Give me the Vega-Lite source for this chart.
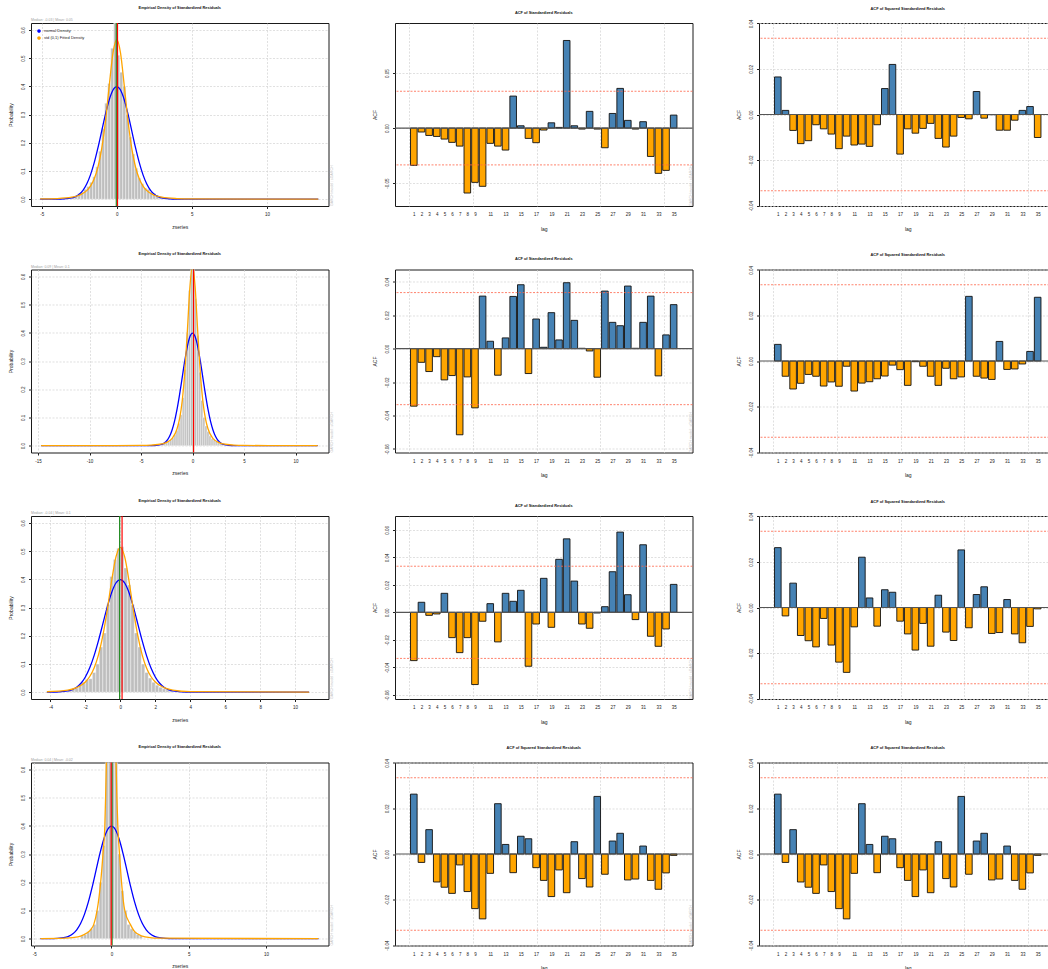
{
  "$schema": "https://vega.github.io/schema/vega-lite/v6.json",
  "padding": {"left": 8, "top": 5, "right": 0, "bottom": 0},
  "bounds": "flush",
  "columns": 3,
  "spacing": {"row": 63.5, "column": 66},
  "datasets": {
    "clim": [{"clim": 0.0335}, {"clim": -0.0335}],
    "acf1": [
      {"lag": 1, "acf": -0.0339}, {"lag": 2, "acf": -0.0036}, {"lag": 3, "acf": -0.0067}, {"lag": 4, "acf": -0.0076}, {"lag": 5, "acf": -0.0100},
      {"lag": 6, "acf": -0.0130}, {"lag": 7, "acf": -0.0164}, {"lag": 8, "acf": -0.0591}, {"lag": 9, "acf": -0.0494}, {"lag": 10, "acf": -0.0530},
      {"lag": 11, "acf": -0.0139}, {"lag": 12, "acf": -0.0164}, {"lag": 13, "acf": -0.0200}, {"lag": 14, "acf": 0.0291}, {"lag": 15, "acf": 0.0021},
      {"lag": 16, "acf": -0.0094}, {"lag": 17, "acf": -0.0133}, {"lag": 18, "acf": -0.0018}, {"lag": 19, "acf": 0.0048}, {"lag": 20, "acf": 0.0006},
      {"lag": 21, "acf": 0.0797}, {"lag": 22, "acf": 0.0021}, {"lag": 23, "acf": -0.0009}, {"lag": 24, "acf": 0.0152}, {"lag": 25, "acf": -0.0009},
      {"lag": 26, "acf": -0.0179}, {"lag": 27, "acf": 0.0133}, {"lag": 28, "acf": 0.0361}, {"lag": 29, "acf": 0.0070}, {"lag": 30, "acf": -0.0009},
      {"lag": 31, "acf": 0.0058}, {"lag": 32, "acf": -0.0258}, {"lag": 33, "acf": -0.0412}, {"lag": 34, "acf": -0.0385}, {"lag": 35, "acf": 0.0118}
    ],
    "sq1": [
      {"lag": 1, "acf": 0.0165}, {"lag": 2, "acf": 0.0018}, {"lag": 3, "acf": -0.0070}, {"lag": 4, "acf": -0.0128}, {"lag": 5, "acf": -0.0115},
      {"lag": 6, "acf": -0.0045}, {"lag": 7, "acf": -0.0063}, {"lag": 8, "acf": -0.0086}, {"lag": 9, "acf": -0.0150}, {"lag": 10, "acf": -0.0095},
      {"lag": 11, "acf": -0.0134}, {"lag": 12, "acf": -0.0130}, {"lag": 13, "acf": -0.0140}, {"lag": 14, "acf": -0.0045}, {"lag": 15, "acf": 0.0114},
      {"lag": 16, "acf": 0.0220}, {"lag": 17, "acf": -0.0174}, {"lag": 18, "acf": -0.0063}, {"lag": 19, "acf": -0.0082}, {"lag": 20, "acf": -0.0061},
      {"lag": 21, "acf": -0.0039}, {"lag": 22, "acf": -0.0105}, {"lag": 23, "acf": -0.0143}, {"lag": 24, "acf": -0.0095}, {"lag": 25, "acf": -0.0013},
      {"lag": 26, "acf": -0.0019}, {"lag": 27, "acf": 0.0101}, {"lag": 28, "acf": -0.0016}, {"lag": 29, "acf": -0.0001}, {"lag": 30, "acf": -0.0069},
      {"lag": 31, "acf": -0.0069}, {"lag": 32, "acf": -0.0025}, {"lag": 33, "acf": 0.0018}, {"lag": 34, "acf": 0.0035}, {"lag": 35, "acf": -0.0101}
    ],
    "acf2": [
      {"lag": 1, "acf": -0.0344}, {"lag": 2, "acf": -0.0082}, {"lag": 3, "acf": -0.0137}, {"lag": 4, "acf": -0.0048}, {"lag": 5, "acf": -0.0187},
      {"lag": 6, "acf": -0.0161}, {"lag": 7, "acf": -0.0515}, {"lag": 8, "acf": -0.0169}, {"lag": 9, "acf": -0.0354}, {"lag": 10, "acf": 0.0314},
      {"lag": 11, "acf": 0.0044}, {"lag": 12, "acf": -0.0159}, {"lag": 13, "acf": 0.0064}, {"lag": 14, "acf": 0.0312}, {"lag": 15, "acf": 0.0382},
      {"lag": 16, "acf": -0.0149}, {"lag": 17, "acf": 0.0177}, {"lag": 18, "acf": 0.0008}, {"lag": 19, "acf": 0.0215}, {"lag": 20, "acf": 0.0052},
      {"lag": 21, "acf": 0.0394}, {"lag": 22, "acf": 0.0169}, {"lag": 23, "acf": 0.0002}, {"lag": 24, "acf": -0.0014}, {"lag": 25, "acf": -0.0171},
      {"lag": 26, "acf": 0.0344}, {"lag": 27, "acf": 0.0157}, {"lag": 28, "acf": 0.0137}, {"lag": 29, "acf": 0.0374}, {"lag": 30, "acf": 0.0002},
      {"lag": 31, "acf": 0.0157}, {"lag": 32, "acf": 0.0314}, {"lag": 33, "acf": -0.0163}, {"lag": 34, "acf": 0.0082}, {"lag": 35, "acf": 0.0263}
    ],
    "sq2": [
      {"lag": 1, "acf": 0.0073}, {"lag": 2, "acf": -0.0067}, {"lag": 3, "acf": -0.0123}, {"lag": 4, "acf": -0.0098}, {"lag": 5, "acf": -0.0059},
      {"lag": 6, "acf": -0.0067}, {"lag": 7, "acf": -0.0110}, {"lag": 8, "acf": -0.0092}, {"lag": 9, "acf": -0.0111}, {"lag": 10, "acf": -0.0023},
      {"lag": 11, "acf": -0.0132}, {"lag": 12, "acf": -0.0097}, {"lag": 13, "acf": -0.0091}, {"lag": 14, "acf": -0.0078}, {"lag": 15, "acf": -0.0066},
      {"lag": 16, "acf": -0.0018}, {"lag": 17, "acf": -0.0038}, {"lag": 18, "acf": -0.0107}, {"lag": 19, "acf": -0.0003}, {"lag": 20, "acf": -0.0023},
      {"lag": 21, "acf": -0.0067}, {"lag": 22, "acf": -0.0107}, {"lag": 23, "acf": -0.0032}, {"lag": 24, "acf": -0.0078}, {"lag": 25, "acf": -0.0070},
      {"lag": 26, "acf": 0.0284}, {"lag": 27, "acf": -0.0067}, {"lag": 28, "acf": -0.0075}, {"lag": 29, "acf": -0.0081}, {"lag": 30, "acf": 0.0086},
      {"lag": 31, "acf": -0.0037}, {"lag": 32, "acf": -0.0035}, {"lag": 33, "acf": -0.0013}, {"lag": 34, "acf": 0.0042}, {"lag": 35, "acf": 0.0280}
    ],
    "acf3": [
      {"lag": 1, "acf": -0.0351}, {"lag": 2, "acf": 0.0073}, {"lag": 3, "acf": -0.0022}, {"lag": 4, "acf": -0.0012}, {"lag": 5, "acf": 0.0138},
      {"lag": 6, "acf": -0.0184}, {"lag": 7, "acf": -0.0293}, {"lag": 8, "acf": -0.0184}, {"lag": 9, "acf": -0.0525}, {"lag": 10, "acf": -0.0065},
      {"lag": 11, "acf": 0.0063}, {"lag": 12, "acf": -0.0215}, {"lag": 13, "acf": 0.0138}, {"lag": 14, "acf": 0.0080}, {"lag": 15, "acf": 0.0160},
      {"lag": 16, "acf": -0.0392}, {"lag": 17, "acf": -0.0085}, {"lag": 18, "acf": 0.0247}, {"lag": 19, "acf": -0.0109}, {"lag": 20, "acf": 0.0385},
      {"lag": 21, "acf": 0.0534}, {"lag": 22, "acf": 0.0227}, {"lag": 23, "acf": -0.0085}, {"lag": 24, "acf": -0.0116}, {"lag": 25, "acf": -0.0005},
      {"lag": 26, "acf": 0.0041}, {"lag": 27, "acf": 0.0295}, {"lag": 28, "acf": 0.0583}, {"lag": 29, "acf": 0.0128}, {"lag": 30, "acf": -0.0053},
      {"lag": 31, "acf": 0.0491}, {"lag": 32, "acf": -0.0174}, {"lag": 33, "acf": -0.0247}, {"lag": 34, "acf": -0.0121}, {"lag": 35, "acf": 0.0203}
    ],
    "sq3": [
      {"lag": 1, "acf": 0.0263}, {"lag": 2, "acf": -0.0037}, {"lag": 3, "acf": 0.0107}, {"lag": 4, "acf": -0.0123}, {"lag": 5, "acf": -0.0146},
      {"lag": 6, "acf": -0.0173}, {"lag": 7, "acf": -0.0048}, {"lag": 8, "acf": -0.0165}, {"lag": 9, "acf": -0.0240}, {"lag": 10, "acf": -0.0285},
      {"lag": 11, "acf": -0.0085}, {"lag": 12, "acf": 0.0221}, {"lag": 13, "acf": 0.0042}, {"lag": 14, "acf": -0.0082}, {"lag": 15, "acf": 0.0078},
      {"lag": 16, "acf": 0.0067}, {"lag": 17, "acf": -0.0060}, {"lag": 18, "acf": -0.0116}, {"lag": 19, "acf": -0.0187}, {"lag": 20, "acf": -0.0070},
      {"lag": 21, "acf": -0.0170}, {"lag": 22, "acf": 0.0054}, {"lag": 23, "acf": -0.0108}, {"lag": 24, "acf": -0.0145}, {"lag": 25, "acf": 0.0253},
      {"lag": 26, "acf": -0.0089}, {"lag": 27, "acf": 0.0057}, {"lag": 28, "acf": 0.0091}, {"lag": 29, "acf": -0.0114}, {"lag": 30, "acf": -0.0110},
      {"lag": 31, "acf": 0.0035}, {"lag": 32, "acf": -0.0116}, {"lag": 33, "acf": -0.0155}, {"lag": 34, "acf": -0.0083}, {"lag": 35, "acf": -0.0006}
    ],
    "hist1": [
      {"b0": -3.0, "b1": -2.8, "d": 0.008}, {"b0": -2.8, "b1": -2.6, "d": 0.012}, {"b0": -2.6, "b1": -2.4, "d": 0.02}, {"b0": -2.4, "b1": -2.2, "d": 0.025},
      {"b0": -2.2, "b1": -2.0, "d": 0.035}, {"b0": -2.0, "b1": -1.8, "d": 0.045}, {"b0": -1.8, "b1": -1.6, "d": 0.06}, {"b0": -1.6, "b1": -1.4, "d": 0.08},
      {"b0": -1.4, "b1": -1.2, "d": 0.115}, {"b0": -1.2, "b1": -1.0, "d": 0.17}, {"b0": -1.0, "b1": -0.8, "d": 0.25}, {"b0": -0.8, "b1": -0.6, "d": 0.34},
      {"b0": -0.6, "b1": -0.4, "d": 0.41}, {"b0": -0.4, "b1": -0.2, "d": 0.535}, {"b0": -0.2, "b1": 0.0, "d": 0.66}, {"b0": 0.0, "b1": 0.2, "d": 0.51},
      {"b0": 0.2, "b1": 0.4, "d": 0.45}, {"b0": 0.4, "b1": 0.6, "d": 0.4}, {"b0": 0.6, "b1": 0.8, "d": 0.3}, {"b0": 0.8, "b1": 1.0, "d": 0.22},
      {"b0": 1.0, "b1": 1.2, "d": 0.16}, {"b0": 1.2, "b1": 1.4, "d": 0.11}, {"b0": 1.4, "b1": 1.6, "d": 0.075}, {"b0": 1.6, "b1": 1.8, "d": 0.055},
      {"b0": 1.8, "b1": 2.0, "d": 0.04}, {"b0": 2.0, "b1": 2.2, "d": 0.035}, {"b0": 2.2, "b1": 2.4, "d": 0.025}, {"b0": 2.4, "b1": 2.6, "d": 0.02},
      {"b0": 2.6, "b1": 2.8, "d": 0.015}, {"b0": 2.8, "b1": 3.0, "d": 0.01}, {"b0": 3.0, "b1": 3.2, "d": 0.008}, {"b0": 3.2, "b1": 3.4, "d": 0.005}
    ],
    "curve1": [
      {"curve": "normal Density", "z": -5.1, "p": 0}, {"curve": "normal Density", "z": -4, "p": 0.0001}, {"curve": "normal Density", "z": -3.5, "p": 0.0009},
      {"curve": "normal Density", "z": -3, "p": 0.0044}, {"curve": "normal Density", "z": -2.75, "p": 0.0091}, {"curve": "normal Density", "z": -2.5, "p": 0.0175},
      {"curve": "normal Density", "z": -2.25, "p": 0.0317}, {"curve": "normal Density", "z": -2, "p": 0.054}, {"curve": "normal Density", "z": -1.75, "p": 0.0863},
      {"curve": "normal Density", "z": -1.5, "p": 0.1295}, {"curve": "normal Density", "z": -1.25, "p": 0.1826}, {"curve": "normal Density", "z": -1, "p": 0.242},
      {"curve": "normal Density", "z": -0.75, "p": 0.3011}, {"curve": "normal Density", "z": -0.5, "p": 0.3521}, {"curve": "normal Density", "z": -0.25, "p": 0.3867},
      {"curve": "normal Density", "z": 0, "p": 0.3989}, {"curve": "normal Density", "z": 0.25, "p": 0.3867}, {"curve": "normal Density", "z": 0.5, "p": 0.3521},
      {"curve": "normal Density", "z": 0.75, "p": 0.3011}, {"curve": "normal Density", "z": 1, "p": 0.242}, {"curve": "normal Density", "z": 1.25, "p": 0.1826},
      {"curve": "normal Density", "z": 1.5, "p": 0.1295}, {"curve": "normal Density", "z": 1.75, "p": 0.0863}, {"curve": "normal Density", "z": 2, "p": 0.054},
      {"curve": "normal Density", "z": 2.25, "p": 0.0317}, {"curve": "normal Density", "z": 2.5, "p": 0.0175}, {"curve": "normal Density", "z": 2.75, "p": 0.0091},
      {"curve": "normal Density", "z": 3, "p": 0.0044}, {"curve": "normal Density", "z": 3.5, "p": 0.0009}, {"curve": "normal Density", "z": 4, "p": 0.0001},
      {"curve": "normal Density", "z": 13.42, "p": 0},
      {"curve": "std (0,1) Fitted Density", "z": -5.1, "p": 0.0009}, {"curve": "std (0,1) Fitted Density", "z": -4, "p": 0.0023},
      {"curve": "std (0,1) Fitted Density", "z": -3, "p": 0.0071}, {"curve": "std (0,1) Fitted Density", "z": -2.5, "p": 0.0141},
      {"curve": "std (0,1) Fitted Density", "z": -2, "p": 0.0305}, {"curve": "std (0,1) Fitted Density", "z": -1.75, "p": 0.0465},
      {"curve": "std (0,1) Fitted Density", "z": -1.5, "p": 0.0722}, {"curve": "std (0,1) Fitted Density", "z": -1.25, "p": 0.114},
      {"curve": "std (0,1) Fitted Density", "z": -1, "p": 0.18}, {"curve": "std (0,1) Fitted Density", "z": -0.75, "p": 0.277},
      {"curve": "std (0,1) Fitted Density", "z": -0.5, "p": 0.402}, {"curve": "std (0,1) Fitted Density", "z": -0.25, "p": 0.518},
      {"curve": "std (0,1) Fitted Density", "z": 0, "p": 0.566}, {"curve": "std (0,1) Fitted Density", "z": 0.25, "p": 0.518},
      {"curve": "std (0,1) Fitted Density", "z": 0.5, "p": 0.402}, {"curve": "std (0,1) Fitted Density", "z": 0.75, "p": 0.277},
      {"curve": "std (0,1) Fitted Density", "z": 1, "p": 0.18}, {"curve": "std (0,1) Fitted Density", "z": 1.25, "p": 0.114},
      {"curve": "std (0,1) Fitted Density", "z": 1.5, "p": 0.0722}, {"curve": "std (0,1) Fitted Density", "z": 1.75, "p": 0.0465},
      {"curve": "std (0,1) Fitted Density", "z": 2, "p": 0.0305}, {"curve": "std (0,1) Fitted Density", "z": 2.5, "p": 0.0141},
      {"curve": "std (0,1) Fitted Density", "z": 3, "p": 0.0071}, {"curve": "std (0,1) Fitted Density", "z": 4, "p": 0.0023},
      {"curve": "std (0,1) Fitted Density", "z": 5, "p": 0.0009}, {"curve": "std (0,1) Fitted Density", "z": 13.42, "p": 0}
    ],
    "stat1": [{"stat": "median", "v": -0.03}, {"stat": "mean", "v": 0.05}],
    "hist2": [
      {"b0": -3.0, "b1": -2.8, "d": 0.006}, {"b0": -2.8, "b1": -2.6, "d": 0.008}, {"b0": -2.6, "b1": -2.4, "d": 0.01}, {"b0": -2.4, "b1": -2.2, "d": 0.014},
      {"b0": -2.2, "b1": -2.0, "d": 0.02}, {"b0": -2.0, "b1": -1.8, "d": 0.028}, {"b0": -1.8, "b1": -1.6, "d": 0.04}, {"b0": -1.6, "b1": -1.4, "d": 0.055},
      {"b0": -1.4, "b1": -1.2, "d": 0.08}, {"b0": -1.2, "b1": -1.0, "d": 0.11}, {"b0": -1.0, "b1": -0.8, "d": 0.17}, {"b0": -0.8, "b1": -0.6, "d": 0.27},
      {"b0": -0.6, "b1": -0.4, "d": 0.4}, {"b0": -0.4, "b1": -0.2, "d": 0.55}, {"b0": -0.2, "b1": 0.0, "d": 0.63}, {"b0": 0.0, "b1": 0.2, "d": 0.65},
      {"b0": 0.2, "b1": 0.4, "d": 0.52}, {"b0": 0.4, "b1": 0.6, "d": 0.39}, {"b0": 0.6, "b1": 0.8, "d": 0.26}, {"b0": 0.8, "b1": 1.0, "d": 0.16},
      {"b0": 1.0, "b1": 1.2, "d": 0.1}, {"b0": 1.2, "b1": 1.4, "d": 0.07}, {"b0": 1.4, "b1": 1.6, "d": 0.05}, {"b0": 1.6, "b1": 1.8, "d": 0.035},
      {"b0": 1.8, "b1": 2.0, "d": 0.025}, {"b0": 2.0, "b1": 2.2, "d": 0.02}, {"b0": 2.2, "b1": 2.4, "d": 0.015}, {"b0": 2.4, "b1": 2.6, "d": 0.01},
      {"b0": 2.6, "b1": 2.8, "d": 0.008}, {"b0": 2.8, "b1": 3.0, "d": 0.006}
    ],
    "curve2": [
      {"curve": "normal Density", "z": -14.7, "p": 0}, {"curve": "normal Density", "z": -4, "p": 0.0001}, {"curve": "normal Density", "z": -3.5, "p": 0.0009},
      {"curve": "normal Density", "z": -3, "p": 0.0044}, {"curve": "normal Density", "z": -2.75, "p": 0.0091}, {"curve": "normal Density", "z": -2.5, "p": 0.0175},
      {"curve": "normal Density", "z": -2.25, "p": 0.0317}, {"curve": "normal Density", "z": -2, "p": 0.054}, {"curve": "normal Density", "z": -1.75, "p": 0.0863},
      {"curve": "normal Density", "z": -1.5, "p": 0.1295}, {"curve": "normal Density", "z": -1.25, "p": 0.1826}, {"curve": "normal Density", "z": -1, "p": 0.242},
      {"curve": "normal Density", "z": -0.75, "p": 0.3011}, {"curve": "normal Density", "z": -0.5, "p": 0.3521}, {"curve": "normal Density", "z": -0.25, "p": 0.3867},
      {"curve": "normal Density", "z": 0, "p": 0.3989}, {"curve": "normal Density", "z": 0.25, "p": 0.3867}, {"curve": "normal Density", "z": 0.5, "p": 0.3521},
      {"curve": "normal Density", "z": 0.75, "p": 0.3011}, {"curve": "normal Density", "z": 1, "p": 0.242}, {"curve": "normal Density", "z": 1.25, "p": 0.1826},
      {"curve": "normal Density", "z": 1.5, "p": 0.1295}, {"curve": "normal Density", "z": 1.75, "p": 0.0863}, {"curve": "normal Density", "z": 2, "p": 0.054},
      {"curve": "normal Density", "z": 2.25, "p": 0.0317}, {"curve": "normal Density", "z": 2.5, "p": 0.0175}, {"curve": "normal Density", "z": 2.75, "p": 0.0091},
      {"curve": "normal Density", "z": 3, "p": 0.0044}, {"curve": "normal Density", "z": 3.5, "p": 0.0009}, {"curve": "normal Density", "z": 4, "p": 0.0001},
      {"curve": "normal Density", "z": 12.15, "p": 0},
      {"curve": "std (0,1) Fitted Density", "z": -14.7, "p": 0.0001}, {"curve": "std (0,1) Fitted Density", "z": -5, "p": 0.0009},
      {"curve": "std (0,1) Fitted Density", "z": -4, "p": 0.0022}, {"curve": "std (0,1) Fitted Density", "z": -3, "p": 0.0064},
      {"curve": "std (0,1) Fitted Density", "z": -2.5, "p": 0.012}, {"curve": "std (0,1) Fitted Density", "z": -2, "p": 0.025},
      {"curve": "std (0,1) Fitted Density", "z": -1.5, "p": 0.06}, {"curve": "std (0,1) Fitted Density", "z": -1.25, "p": 0.097},
      {"curve": "std (0,1) Fitted Density", "z": -1, "p": 0.159}, {"curve": "std (0,1) Fitted Density", "z": -0.75, "p": 0.261},
      {"curve": "std (0,1) Fitted Density", "z": -0.5, "p": 0.407}, {"curve": "std (0,1) Fitted Density", "z": -0.25, "p": 0.564},
      {"curve": "std (0,1) Fitted Density", "z": 0, "p": 0.637}, {"curve": "std (0,1) Fitted Density", "z": 0.25, "p": 0.564},
      {"curve": "std (0,1) Fitted Density", "z": 0.5, "p": 0.407}, {"curve": "std (0,1) Fitted Density", "z": 0.75, "p": 0.261},
      {"curve": "std (0,1) Fitted Density", "z": 1, "p": 0.159}, {"curve": "std (0,1) Fitted Density", "z": 1.25, "p": 0.097},
      {"curve": "std (0,1) Fitted Density", "z": 1.5, "p": 0.06}, {"curve": "std (0,1) Fitted Density", "z": 2, "p": 0.025},
      {"curve": "std (0,1) Fitted Density", "z": 2.5, "p": 0.012}, {"curve": "std (0,1) Fitted Density", "z": 3, "p": 0.0064},
      {"curve": "std (0,1) Fitted Density", "z": 4, "p": 0.0022}, {"curve": "std (0,1) Fitted Density", "z": 5, "p": 0.0009},
      {"curve": "std (0,1) Fitted Density", "z": 12.15, "p": 0}
    ],
    "stat2": [{"stat": "median", "v": 0.09}, {"stat": "mean", "v": 0.1}],
    "hist3": [
      {"b0": -3.0, "b1": -2.8, "d": 0.008}, {"b0": -2.8, "b1": -2.6, "d": 0.01}, {"b0": -2.6, "b1": -2.4, "d": 0.015}, {"b0": -2.4, "b1": -2.2, "d": 0.025},
      {"b0": -2.2, "b1": -2.0, "d": 0.035}, {"b0": -2.0, "b1": -1.8, "d": 0.045}, {"b0": -1.8, "b1": -1.6, "d": 0.048}, {"b0": -1.6, "b1": -1.4, "d": 0.07},
      {"b0": -1.4, "b1": -1.2, "d": 0.1}, {"b0": -1.2, "b1": -1.0, "d": 0.16}, {"b0": -1.0, "b1": -0.8, "d": 0.21}, {"b0": -0.8, "b1": -0.6, "d": 0.31},
      {"b0": -0.6, "b1": -0.4, "d": 0.41}, {"b0": -0.4, "b1": -0.2, "d": 0.47}, {"b0": -0.2, "b1": 0.0, "d": 0.51}, {"b0": 0.0, "b1": 0.2, "d": 0.515},
      {"b0": 0.2, "b1": 0.4, "d": 0.44}, {"b0": 0.4, "b1": 0.6, "d": 0.38}, {"b0": 0.6, "b1": 0.8, "d": 0.31}, {"b0": 0.8, "b1": 1.0, "d": 0.21},
      {"b0": 1.0, "b1": 1.2, "d": 0.16}, {"b0": 1.2, "b1": 1.4, "d": 0.1}, {"b0": 1.4, "b1": 1.6, "d": 0.07}, {"b0": 1.6, "b1": 1.8, "d": 0.05},
      {"b0": 1.8, "b1": 2.0, "d": 0.035}, {"b0": 2.0, "b1": 2.2, "d": 0.025}, {"b0": 2.2, "b1": 2.4, "d": 0.018}, {"b0": 2.4, "b1": 2.6, "d": 0.012},
      {"b0": 2.6, "b1": 2.8, "d": 0.008}, {"b0": 2.8, "b1": 3.0, "d": 0.005}
    ],
    "curve3": [
      {"curve": "normal Density", "z": -4.2, "p": 0}, {"curve": "normal Density", "z": -4, "p": 0.0001}, {"curve": "normal Density", "z": -3.5, "p": 0.0009},
      {"curve": "normal Density", "z": -3, "p": 0.0044}, {"curve": "normal Density", "z": -2.75, "p": 0.0091}, {"curve": "normal Density", "z": -2.5, "p": 0.0175},
      {"curve": "normal Density", "z": -2.25, "p": 0.0317}, {"curve": "normal Density", "z": -2, "p": 0.054}, {"curve": "normal Density", "z": -1.75, "p": 0.0863},
      {"curve": "normal Density", "z": -1.5, "p": 0.1295}, {"curve": "normal Density", "z": -1.25, "p": 0.1826}, {"curve": "normal Density", "z": -1, "p": 0.242},
      {"curve": "normal Density", "z": -0.75, "p": 0.3011}, {"curve": "normal Density", "z": -0.5, "p": 0.3521}, {"curve": "normal Density", "z": -0.25, "p": 0.3867},
      {"curve": "normal Density", "z": 0, "p": 0.3989}, {"curve": "normal Density", "z": 0.25, "p": 0.3867}, {"curve": "normal Density", "z": 0.5, "p": 0.3521},
      {"curve": "normal Density", "z": 0.75, "p": 0.3011}, {"curve": "normal Density", "z": 1, "p": 0.242}, {"curve": "normal Density", "z": 1.25, "p": 0.1826},
      {"curve": "normal Density", "z": 1.5, "p": 0.1295}, {"curve": "normal Density", "z": 1.75, "p": 0.0863}, {"curve": "normal Density", "z": 2, "p": 0.054},
      {"curve": "normal Density", "z": 2.25, "p": 0.0317}, {"curve": "normal Density", "z": 2.5, "p": 0.0175}, {"curve": "normal Density", "z": 2.75, "p": 0.0091},
      {"curve": "normal Density", "z": 3, "p": 0.0044}, {"curve": "normal Density", "z": 3.5, "p": 0.0009}, {"curve": "normal Density", "z": 4, "p": 0.0001},
      {"curve": "normal Density", "z": 10.8, "p": 0},
      {"curve": "std (0,1) Fitted Density", "z": -4.2, "p": 0.0017}, {"curve": "std (0,1) Fitted Density", "z": -3, "p": 0.0076},
      {"curve": "std (0,1) Fitted Density", "z": -2.5, "p": 0.0161}, {"curve": "std (0,1) Fitted Density", "z": -2, "p": 0.0363},
      {"curve": "std (0,1) Fitted Density", "z": -1.75, "p": 0.0557}, {"curve": "std (0,1) Fitted Density", "z": -1.5, "p": 0.086},
      {"curve": "std (0,1) Fitted Density", "z": -1.25, "p": 0.1325}, {"curve": "std (0,1) Fitted Density", "z": -1, "p": 0.2},
      {"curve": "std (0,1) Fitted Density", "z": -0.75, "p": 0.29}, {"curve": "std (0,1) Fitted Density", "z": -0.5, "p": 0.393},
      {"curve": "std (0,1) Fitted Density", "z": -0.25, "p": 0.479}, {"curve": "std (0,1) Fitted Density", "z": 0, "p": 0.513},
      {"curve": "std (0,1) Fitted Density", "z": 0.25, "p": 0.479}, {"curve": "std (0,1) Fitted Density", "z": 0.5, "p": 0.393},
      {"curve": "std (0,1) Fitted Density", "z": 0.75, "p": 0.29}, {"curve": "std (0,1) Fitted Density", "z": 1, "p": 0.2},
      {"curve": "std (0,1) Fitted Density", "z": 1.25, "p": 0.1325}, {"curve": "std (0,1) Fitted Density", "z": 1.5, "p": 0.086},
      {"curve": "std (0,1) Fitted Density", "z": 1.75, "p": 0.0557}, {"curve": "std (0,1) Fitted Density", "z": 2, "p": 0.0363},
      {"curve": "std (0,1) Fitted Density", "z": 2.5, "p": 0.0161}, {"curve": "std (0,1) Fitted Density", "z": 3, "p": 0.0076},
      {"curve": "std (0,1) Fitted Density", "z": 4, "p": 0.0021}, {"curve": "std (0,1) Fitted Density", "z": 10.8, "p": 0}
    ],
    "stat3": [{"stat": "median", "v": -0.04}, {"stat": "mean", "v": 0.1}],
    "hist4": [
      {"b0": -2.0, "b1": -1.8, "d": 0.01}, {"b0": -1.8, "b1": -1.6, "d": 0.015}, {"b0": -1.6, "b1": -1.4, "d": 0.025}, {"b0": -1.4, "b1": -1.2, "d": 0.035},
      {"b0": -1.2, "b1": -1.0, "d": 0.05}, {"b0": -1.0, "b1": -0.8, "d": 0.1}, {"b0": -0.8, "b1": -0.6, "d": 0.2}, {"b0": -0.6, "b1": -0.4, "d": 0.33},
      {"b0": -0.4, "b1": -0.2, "d": 0.7}, {"b0": -0.2, "b1": 0.0, "d": 0.9}, {"b0": 0.0, "b1": 0.2, "d": 0.9}, {"b0": 0.2, "b1": 0.4, "d": 0.65},
      {"b0": 0.4, "b1": 0.6, "d": 0.3}, {"b0": 0.6, "b1": 0.8, "d": 0.17}, {"b0": 0.8, "b1": 1.0, "d": 0.1}, {"b0": 1.0, "b1": 1.2, "d": 0.05},
      {"b0": 1.2, "b1": 1.4, "d": 0.035}, {"b0": 1.4, "b1": 1.6, "d": 0.025}, {"b0": 1.6, "b1": 1.8, "d": 0.015}, {"b0": 1.8, "b1": 2.0, "d": 0.01}
    ],
    "curve4": [
      {"curve": "normal Density", "z": -4.6, "p": 0}, {"curve": "normal Density", "z": -4, "p": 0.0001}, {"curve": "normal Density", "z": -3.5, "p": 0.0009},
      {"curve": "normal Density", "z": -3, "p": 0.0044}, {"curve": "normal Density", "z": -2.75, "p": 0.0091}, {"curve": "normal Density", "z": -2.5, "p": 0.0175},
      {"curve": "normal Density", "z": -2.25, "p": 0.0317}, {"curve": "normal Density", "z": -2, "p": 0.054}, {"curve": "normal Density", "z": -1.75, "p": 0.0863},
      {"curve": "normal Density", "z": -1.5, "p": 0.1295}, {"curve": "normal Density", "z": -1.25, "p": 0.1826}, {"curve": "normal Density", "z": -1, "p": 0.242},
      {"curve": "normal Density", "z": -0.75, "p": 0.3011}, {"curve": "normal Density", "z": -0.5, "p": 0.3521}, {"curve": "normal Density", "z": -0.25, "p": 0.3867},
      {"curve": "normal Density", "z": 0, "p": 0.3989}, {"curve": "normal Density", "z": 0.25, "p": 0.3867}, {"curve": "normal Density", "z": 0.5, "p": 0.3521},
      {"curve": "normal Density", "z": 0.75, "p": 0.3011}, {"curve": "normal Density", "z": 1, "p": 0.242}, {"curve": "normal Density", "z": 1.25, "p": 0.1826},
      {"curve": "normal Density", "z": 1.5, "p": 0.1295}, {"curve": "normal Density", "z": 1.75, "p": 0.0863}, {"curve": "normal Density", "z": 2, "p": 0.054},
      {"curve": "normal Density", "z": 2.25, "p": 0.0317}, {"curve": "normal Density", "z": 2.5, "p": 0.0175}, {"curve": "normal Density", "z": 2.75, "p": 0.0091},
      {"curve": "normal Density", "z": 3, "p": 0.0044}, {"curve": "normal Density", "z": 3.5, "p": 0.0009}, {"curve": "normal Density", "z": 4, "p": 0.0001},
      {"curve": "normal Density", "z": 13.4, "p": 0},
      {"curve": "std (0,1) Fitted Density", "z": -4.6, "p": 0.0005}, {"curve": "std (0,1) Fitted Density", "z": -3, "p": 0.002},
      {"curve": "std (0,1) Fitted Density", "z": -2.5, "p": 0.004}, {"curve": "std (0,1) Fitted Density", "z": -2, "p": 0.009},
      {"curve": "std (0,1) Fitted Density", "z": -1.6, "p": 0.02}, {"curve": "std (0,1) Fitted Density", "z": -1.3, "p": 0.035},
      {"curve": "std (0,1) Fitted Density", "z": -1.15, "p": 0.05}, {"curve": "std (0,1) Fitted Density", "z": -0.93, "p": 0.1},
      {"curve": "std (0,1) Fitted Density", "z": -0.7, "p": 0.2}, {"curve": "std (0,1) Fitted Density", "z": -0.55, "p": 0.3},
      {"curve": "std (0,1) Fitted Density", "z": -0.43, "p": 0.4}, {"curve": "std (0,1) Fitted Density", "z": -0.38, "p": 0.5},
      {"curve": "std (0,1) Fitted Density", "z": -0.33, "p": 0.62}, {"curve": "std (0,1) Fitted Density", "z": -0.25, "p": 0.8},
      {"curve": "std (0,1) Fitted Density", "z": -0.15, "p": 1.0}, {"curve": "std (0,1) Fitted Density", "z": 0, "p": 1.3},
      {"curve": "std (0,1) Fitted Density", "z": 0.12, "p": 1.0}, {"curve": "std (0,1) Fitted Density", "z": 0.22, "p": 0.8},
      {"curve": "std (0,1) Fitted Density", "z": 0.3, "p": 0.62}, {"curve": "std (0,1) Fitted Density", "z": 0.35, "p": 0.5},
      {"curve": "std (0,1) Fitted Density", "z": 0.41, "p": 0.4}, {"curve": "std (0,1) Fitted Density", "z": 0.52, "p": 0.3},
      {"curve": "std (0,1) Fitted Density", "z": 0.65, "p": 0.2}, {"curve": "std (0,1) Fitted Density", "z": 0.86, "p": 0.1},
      {"curve": "std (0,1) Fitted Density", "z": 1.23, "p": 0.05}, {"curve": "std (0,1) Fitted Density", "z": 1.5, "p": 0.025},
      {"curve": "std (0,1) Fitted Density", "z": 2, "p": 0.009}, {"curve": "std (0,1) Fitted Density", "z": 2.5, "p": 0.004},
      {"curve": "std (0,1) Fitted Density", "z": 3, "p": 0.002}, {"curve": "std (0,1) Fitted Density", "z": 13.4, "p": 0}
    ],
    "stat4": [{"stat": "median", "v": 0.04}, {"stat": "mean", "v": -0.02}]
  },
  "concat": [
    {
      "width": 297.5, "height": 183,
      "title": "Empirical Density of Standardized Residuals",
      "layer": [
        {"data": {"name": "hist1"}, "mark": {"type": "bar", "color": "#bebebe", "stroke": "white", "strokeWidth": 0.4, "clip": true},
          "encoding": {
            "x": {"field": "b0", "type": "quantitative", "title": "zseries", "scale": {"domain": [-5.71, 14.1], "nice": false, "zero": false},
              "axis": {"values": [-5, 0, 5, 10], "tickCount": 60, "labelOverlap": false, "labelExpr": "(datum.value < 0 ? '-' : '') + format(abs(datum.value), 'd')"}},
            "x2": {"field": "b1"},
            "y": {"field": "d", "type": "quantitative", "title": "Probability", "scale": {"domain": [-0.024, 0.624], "nice": false, "zero": false},
              "axis": {"values": [0, 0.1, 0.2, 0.3, 0.4, 0.5, 0.6], "tickCount": 60, "labelOverlap": false, "format": ".1f"}},
            "y2": {"datum": 0}}},
        {"data": {"name": "curve1"}, "mark": {"type": "line", "strokeWidth": 1.3, "clip": true, "interpolate": "monotone"},
          "encoding": {"x": {"field": "z", "type": "quantitative", "scale": {"domain": [-5.71, 14.1], "nice": false, "zero": false}},
            "y": {"field": "p", "type": "quantitative", "scale": {"domain": [-0.024, 0.624], "nice": false, "zero": false}},
            "color": {"field": "curve", "type": "nominal", "scale": {"domain": ["normal Density", "std (0,1) Fitted Density"], "range": ["#0000ff", "#ffa500"]},
              "legend": {"orient": "top-left", "title": null, "offset": 5.5}}}},
        {"data": {"name": "stat1"}, "mark": {"type": "rule", "strokeWidth": 1.2},
          "encoding": {"x": {"field": "v", "type": "quantitative", "scale": {"domain": [-5.71, 14.1], "nice": false, "zero": false}}, "color": {"condition": {"test": "datum.stat === 'mean'", "value": "#ff0000"}, "value": "#228b22"}}},
        {"data": {"values": [{}]}, "mark": {"type": "text", "text": "Median: -0.03 | Mean: 0.05", "align": "left", "baseline": "bottom", "dy": -1, "fontSize": 3.5, "color": "#a0a0a0"},
          "encoding": {"x": {"datum": -5.71, "scale": {"domain": [-5.71, 14.1], "nice": false, "zero": false}}, "y": {"datum": 0.624, "scale": {"domain": [-0.024, 0.624], "nice": false, "zero": false}}}},
        {"data": {"values": [{}]}, "mark": {"type": "text", "text": "GARCH model : sGARCH", "angle": 270, "align": "left", "baseline": "top", "dy": 1.5, "fontSize": 3.5, "color": "#c0c0c0"},
          "encoding": {"x": {"datum": 14.1, "scale": {"domain": [-5.71, 14.1], "nice": false, "zero": false}}, "y": {"datum": -0.024, "scale": {"domain": [-0.024, 0.624], "nice": false, "zero": false}}}}
      ]
    },
    {
      "width": 297.5, "height": 183,
      "title": "ACF of Standardized Residuals",
      "layer": [
        {"data": {"name": "acf1"}, "mark": {"type": "bar", "width": 6.6, "stroke": "#111", "strokeWidth": 0.9},
          "encoding": {
            "x": {"field": "lag", "type": "quantitative", "title": "lag", "scale": {"domain": [-0.808, 36.81], "nice": false, "zero": false},
              "axis": {"values": [0.4167, 1, 2, 3, 4, 5, 6, 7, 8, 8.75, 9, 11, 13, 15, 17, 17.0833, 19, 21, 23, 25, 25.4167, 27, 29, 31, 33, 33.75, 35], "tickCount": 60, "format": "d", "labelExpr": "datum.value % 1 === 0 ? datum.label : ''", "ticks": false, "labelPadding": 5.5, "titlePadding": 10, "labelOverlap": false, "labelFlush": false, "gridOpacity": {"condition": {"test": "datum.value % 1 !== 0", "value": 1}, "value": 0}}},
            "y": {"field": "acf", "type": "quantitative", "title": "ACF", "scale": {"domain": [-0.0709, 0.0956], "nice": false, "zero": false},
              "axis": {"values": [-0.05, 0, 0.05], "tickCount": 60, "labelOverlap": false, "labelExpr": "(datum.value < 0 ? '-' : '') + format(abs(datum.value), '.2f')"}},
            "y2": {"datum": 0},
            "color": {"condition": {"test": "datum.acf >= 0", "value": "#4682b4"}, "value": "#ffa500"}}},
        {"data": {"name": "clim"}, "mark": {"type": "rule", "color": "#ff6347", "strokeDash": [2, 1.5], "strokeWidth": 0.8}, "encoding": {"y": {"field": "clim", "type": "quantitative"}}},
        {"data": {"values": [{}]}, "mark": {"type": "rule", "color": "#555", "strokeWidth": 1.2}, "encoding": {"y": {"datum": 0}}},
        {"data": {"values": [{}]}, "mark": {"type": "text", "text": "GARCH model : sGARCH", "angle": 270, "align": "left", "baseline": "top", "dy": 1.5, "fontSize": 3.5, "color": "#c0c0c0"},
          "encoding": {"x": {"datum": 36.81}, "y": {"datum": -0.0709}}}
      ]
    },
    {
      "width": 297.5, "height": 183,
      "title": "ACF of Squared Standardized Residuals",
      "layer": [
        {"data": {"name": "sq1"}, "mark": {"type": "bar", "width": 6.6, "stroke": "#111", "strokeWidth": 0.9},
          "encoding": {
            "x": {"field": "lag", "type": "quantitative", "title": "lag", "scale": {"domain": [-0.808, 36.81], "nice": false, "zero": false},
              "axis": {"values": [0.4167, 1, 2, 3, 4, 5, 6, 7, 8, 8.75, 9, 11, 13, 15, 17, 17.0833, 19, 21, 23, 25, 25.4167, 27, 29, 31, 33, 33.75, 35], "tickCount": 60, "format": "d", "labelExpr": "datum.value % 1 === 0 ? datum.label : ''", "ticks": false, "labelPadding": 5.5, "titlePadding": 10, "labelOverlap": false, "labelFlush": false, "gridOpacity": {"condition": {"test": "datum.value % 1 !== 0", "value": 1}, "value": 0}}},
            "y": {"field": "acf", "type": "quantitative", "title": "ACF", "scale": {"domain": [-0.0402, 0.0402], "nice": false, "zero": false},
              "axis": {"values": [-0.04, -0.02, 0, 0.02, 0.04], "tickCount": 60, "labelOverlap": false, "labelExpr": "(datum.value < 0 ? '-' : '') + format(abs(datum.value), '.2f')"}},
            "y2": {"datum": 0},
            "color": {"condition": {"test": "datum.acf >= 0", "value": "#4682b4"}, "value": "#ffa500"}}},
        {"data": {"name": "clim"}, "mark": {"type": "rule", "color": "#ff6347", "strokeDash": [2, 1.5], "strokeWidth": 0.8}, "encoding": {"y": {"field": "clim", "type": "quantitative"}}},
        {"data": {"values": [{}]}, "mark": {"type": "rule", "color": "#555", "strokeWidth": 1.2}, "encoding": {"y": {"datum": 0}}}
      ]
    },
    {
      "width": 297.5, "height": 183,
      "title": "Empirical Density of Standardized Residuals",
      "layer": [
        {"data": {"name": "hist2"}, "mark": {"type": "bar", "color": "#bebebe", "stroke": "white", "strokeWidth": 0.4, "clip": true},
          "encoding": {
            "x": {"field": "b0", "type": "quantitative", "title": "zseries", "scale": {"domain": [-15.68, 13.2], "nice": false, "zero": false},
              "axis": {"values": [-15, -10, -5, 0, 5, 10], "tickCount": 60, "labelOverlap": false, "labelExpr": "(datum.value < 0 ? '-' : '') + format(abs(datum.value), 'd')"}},
            "x2": {"field": "b1"},
            "y": {"field": "d", "type": "quantitative", "title": "Probability", "scale": {"domain": [-0.024, 0.624], "nice": false, "zero": false},
              "axis": {"values": [0, 0.1, 0.2, 0.3, 0.4, 0.5, 0.6], "tickCount": 60, "labelOverlap": false, "format": ".1f"}},
            "y2": {"datum": 0}}},
        {"data": {"name": "curve2"}, "mark": {"type": "line", "strokeWidth": 1.3, "clip": true, "interpolate": "monotone"},
          "encoding": {"x": {"field": "z", "type": "quantitative", "scale": {"domain": [-15.68, 13.2], "nice": false, "zero": false}},
            "y": {"field": "p", "type": "quantitative", "scale": {"domain": [-0.024, 0.624], "nice": false, "zero": false}},
            "color": {"field": "curve", "type": "nominal", "scale": {"domain": ["normal Density", "std (0,1) Fitted Density"], "range": ["#0000ff", "#ffa500"]},
              "legend": {"orient": "top-left", "title": null, "offset": 5.5}}}},
        {"data": {"name": "stat2"}, "mark": {"type": "rule", "strokeWidth": 1.2},
          "encoding": {"x": {"field": "v", "type": "quantitative", "scale": {"domain": [-15.68, 13.2], "nice": false, "zero": false}}, "color": {"condition": {"test": "datum.stat === 'mean'", "value": "#ff0000"}, "value": "#228b22"}}},
        {"data": {"values": [{}]}, "mark": {"type": "text", "text": "Median: 0.09 | Mean: 0.1", "align": "left", "baseline": "bottom", "dy": -1, "fontSize": 3.5, "color": "#a0a0a0"},
          "encoding": {"x": {"datum": -15.68, "scale": {"domain": [-15.68, 13.2], "nice": false, "zero": false}}, "y": {"datum": 0.624, "scale": {"domain": [-0.024, 0.624], "nice": false, "zero": false}}}},
        {"data": {"values": [{}]}, "mark": {"type": "text", "text": "GARCH model : sGARCH", "angle": 270, "align": "left", "baseline": "top", "dy": 1.5, "fontSize": 3.5, "color": "#c0c0c0"},
          "encoding": {"x": {"datum": 13.2, "scale": {"domain": [-15.68, 13.2], "nice": false, "zero": false}}, "y": {"datum": -0.024, "scale": {"domain": [-0.024, 0.624], "nice": false, "zero": false}}}}
      ]
    },
    {
      "width": 297.5, "height": 183,
      "title": "ACF of Standardized Residuals",
      "layer": [
        {"data": {"name": "acf2"}, "mark": {"type": "bar", "width": 6.6, "stroke": "#111", "strokeWidth": 0.9},
          "encoding": {
            "x": {"field": "lag", "type": "quantitative", "title": "lag", "scale": {"domain": [-0.808, 36.81], "nice": false, "zero": false},
              "axis": {"values": [0.4167, 1, 2, 3, 4, 5, 6, 7, 8, 8.75, 9, 11, 13, 15, 17, 17.0833, 19, 21, 23, 25, 25.4167, 27, 29, 31, 33, 33.75, 35], "tickCount": 60, "format": "d", "labelExpr": "datum.value % 1 === 0 ? datum.label : ''", "ticks": false, "labelPadding": 5.5, "titlePadding": 10, "labelOverlap": false, "labelFlush": false, "gridOpacity": {"condition": {"test": "datum.value % 1 !== 0", "value": 1}, "value": 0}}},
            "y": {"field": "acf", "type": "quantitative", "title": "ACF", "scale": {"domain": [-0.0621, 0.0473], "nice": false, "zero": false},
              "axis": {"values": [-0.06, -0.04, -0.02, 0, 0.02, 0.04], "tickCount": 60, "labelOverlap": false, "labelExpr": "(datum.value < 0 ? '-' : '') + format(abs(datum.value), '.2f')"}},
            "y2": {"datum": 0},
            "color": {"condition": {"test": "datum.acf >= 0", "value": "#4682b4"}, "value": "#ffa500"}}},
        {"data": {"name": "clim"}, "mark": {"type": "rule", "color": "#ff6347", "strokeDash": [2, 1.5], "strokeWidth": 0.8}, "encoding": {"y": {"field": "clim", "type": "quantitative"}}},
        {"data": {"values": [{}]}, "mark": {"type": "rule", "color": "#555", "strokeWidth": 1.2}, "encoding": {"y": {"datum": 0}}},
        {"data": {"values": [{}]}, "mark": {"type": "text", "text": "GARCH model : sGARCH", "angle": 270, "align": "left", "baseline": "top", "dy": 1.5, "fontSize": 3.5, "color": "#c0c0c0"},
          "encoding": {"x": {"datum": 36.81}, "y": {"datum": -0.0621}}}
      ]
    },
    {
      "width": 297.5, "height": 183,
      "title": "ACF of Squared Standardized Residuals",
      "layer": [
        {"data": {"name": "sq2"}, "mark": {"type": "bar", "width": 6.6, "stroke": "#111", "strokeWidth": 0.9},
          "encoding": {
            "x": {"field": "lag", "type": "quantitative", "title": "lag", "scale": {"domain": [-0.808, 36.81], "nice": false, "zero": false},
              "axis": {"values": [0.4167, 1, 2, 3, 4, 5, 6, 7, 8, 8.75, 9, 11, 13, 15, 17, 17.0833, 19, 21, 23, 25, 25.4167, 27, 29, 31, 33, 33.75, 35], "tickCount": 60, "format": "d", "labelExpr": "datum.value % 1 === 0 ? datum.label : ''", "ticks": false, "labelPadding": 5.5, "titlePadding": 10, "labelOverlap": false, "labelFlush": false, "gridOpacity": {"condition": {"test": "datum.value % 1 !== 0", "value": 1}, "value": 0}}},
            "y": {"field": "acf", "type": "quantitative", "title": "ACF", "scale": {"domain": [-0.0402, 0.0402], "nice": false, "zero": false},
              "axis": {"values": [-0.04, -0.02, 0, 0.02, 0.04], "tickCount": 60, "labelOverlap": false, "labelExpr": "(datum.value < 0 ? '-' : '') + format(abs(datum.value), '.2f')"}},
            "y2": {"datum": 0},
            "color": {"condition": {"test": "datum.acf >= 0", "value": "#4682b4"}, "value": "#ffa500"}}},
        {"data": {"name": "clim"}, "mark": {"type": "rule", "color": "#ff6347", "strokeDash": [2, 1.5], "strokeWidth": 0.8}, "encoding": {"y": {"field": "clim", "type": "quantitative"}}},
        {"data": {"values": [{}]}, "mark": {"type": "rule", "color": "#555", "strokeWidth": 1.2}, "encoding": {"y": {"datum": 0}}}
      ]
    },
    {
      "width": 297.5, "height": 183,
      "title": "Empirical Density of Standardized Residuals",
      "layer": [
        {"data": {"name": "hist3"}, "mark": {"type": "bar", "color": "#bebebe", "stroke": "white", "strokeWidth": 0.4, "clip": true},
          "encoding": {
            "x": {"field": "b0", "type": "quantitative", "title": "zseries", "scale": {"domain": [-5.11, 11.91], "nice": false, "zero": false},
              "axis": {"values": [-4, -2, 0, 2, 4, 6, 8, 10], "tickCount": 60, "labelOverlap": false, "labelExpr": "(datum.value < 0 ? '-' : '') + format(abs(datum.value), 'd')"}},
            "x2": {"field": "b1"},
            "y": {"field": "d", "type": "quantitative", "title": "Probability", "scale": {"domain": [-0.024, 0.624], "nice": false, "zero": false},
              "axis": {"values": [0, 0.1, 0.2, 0.3, 0.4, 0.5, 0.6], "tickCount": 60, "labelOverlap": false, "format": ".1f"}},
            "y2": {"datum": 0}}},
        {"data": {"name": "curve3"}, "mark": {"type": "line", "strokeWidth": 1.3, "clip": true, "interpolate": "monotone"},
          "encoding": {"x": {"field": "z", "type": "quantitative", "scale": {"domain": [-5.11, 11.91], "nice": false, "zero": false}},
            "y": {"field": "p", "type": "quantitative", "scale": {"domain": [-0.024, 0.624], "nice": false, "zero": false}},
            "color": {"field": "curve", "type": "nominal", "scale": {"domain": ["normal Density", "std (0,1) Fitted Density"], "range": ["#0000ff", "#ffa500"]},
              "legend": {"orient": "top-left", "title": null, "offset": 5.5}}}},
        {"data": {"name": "stat3"}, "mark": {"type": "rule", "strokeWidth": 1.2},
          "encoding": {"x": {"field": "v", "type": "quantitative", "scale": {"domain": [-5.11, 11.91], "nice": false, "zero": false}}, "color": {"condition": {"test": "datum.stat === 'mean'", "value": "#ff0000"}, "value": "#228b22"}}},
        {"data": {"values": [{}]}, "mark": {"type": "text", "text": "Median: -0.04 | Mean: 0.1", "align": "left", "baseline": "bottom", "dy": -1, "fontSize": 3.5, "color": "#a0a0a0"},
          "encoding": {"x": {"datum": -5.11, "scale": {"domain": [-5.11, 11.91], "nice": false, "zero": false}}, "y": {"datum": 0.624, "scale": {"domain": [-0.024, 0.624], "nice": false, "zero": false}}}},
        {"data": {"values": [{}]}, "mark": {"type": "text", "text": "GARCH model : sGARCH", "angle": 270, "align": "left", "baseline": "top", "dy": 1.5, "fontSize": 3.5, "color": "#c0c0c0"},
          "encoding": {"x": {"datum": 11.91, "scale": {"domain": [-5.11, 11.91], "nice": false, "zero": false}}, "y": {"datum": -0.024, "scale": {"domain": [-0.024, 0.624], "nice": false, "zero": false}}}}
      ]
    },
    {
      "width": 297.5, "height": 183,
      "title": "ACF of Standardized Residuals",
      "layer": [
        {"data": {"name": "acf3"}, "mark": {"type": "bar", "width": 6.6, "stroke": "#111", "strokeWidth": 0.9},
          "encoding": {
            "x": {"field": "lag", "type": "quantitative", "title": "lag", "scale": {"domain": [-0.808, 36.81], "nice": false, "zero": false},
              "axis": {"values": [0.4167, 1, 2, 3, 4, 5, 6, 7, 8, 8.75, 9, 11, 13, 15, 17, 17.0833, 19, 21, 23, 25, 25.4167, 27, 29, 31, 33, 33.75, 35], "tickCount": 60, "format": "d", "labelExpr": "datum.value % 1 === 0 ? datum.label : ''", "ticks": false, "labelPadding": 5.5, "titlePadding": 10, "labelOverlap": false, "labelFlush": false, "gridOpacity": {"condition": {"test": "datum.value % 1 !== 0", "value": 1}, "value": 0}}},
            "y": {"field": "acf", "type": "quantitative", "title": "ACF", "scale": {"domain": [-0.063, 0.07], "nice": false, "zero": false},
              "axis": {"values": [-0.06, -0.04, -0.02, 0, 0.02, 0.04, 0.06], "tickCount": 60, "labelOverlap": false, "labelExpr": "(datum.value < 0 ? '-' : '') + format(abs(datum.value), '.2f')"}},
            "y2": {"datum": 0},
            "color": {"condition": {"test": "datum.acf >= 0", "value": "#4682b4"}, "value": "#ffa500"}}},
        {"data": {"name": "clim"}, "mark": {"type": "rule", "color": "#ff6347", "strokeDash": [2, 1.5], "strokeWidth": 0.8}, "encoding": {"y": {"field": "clim", "type": "quantitative"}}},
        {"data": {"values": [{}]}, "mark": {"type": "rule", "color": "#555", "strokeWidth": 1.2}, "encoding": {"y": {"datum": 0}}},
        {"data": {"values": [{}]}, "mark": {"type": "text", "text": "GARCH model : sGARCH", "angle": 270, "align": "left", "baseline": "top", "dy": 1.5, "fontSize": 3.5, "color": "#c0c0c0"},
          "encoding": {"x": {"datum": 36.81}, "y": {"datum": -0.063}}}
      ]
    },
    {
      "width": 297.5, "height": 183,
      "title": "ACF of Squared Standardized Residuals",
      "layer": [
        {"data": {"name": "sq3"}, "mark": {"type": "bar", "width": 6.6, "stroke": "#111", "strokeWidth": 0.9},
          "encoding": {
            "x": {"field": "lag", "type": "quantitative", "title": "lag", "scale": {"domain": [-0.808, 36.81], "nice": false, "zero": false},
              "axis": {"values": [0.4167, 1, 2, 3, 4, 5, 6, 7, 8, 8.75, 9, 11, 13, 15, 17, 17.0833, 19, 21, 23, 25, 25.4167, 27, 29, 31, 33, 33.75, 35], "tickCount": 60, "format": "d", "labelExpr": "datum.value % 1 === 0 ? datum.label : ''", "ticks": false, "labelPadding": 5.5, "titlePadding": 10, "labelOverlap": false, "labelFlush": false, "gridOpacity": {"condition": {"test": "datum.value % 1 !== 0", "value": 1}, "value": 0}}},
            "y": {"field": "acf", "type": "quantitative", "title": "ACF", "scale": {"domain": [-0.0402, 0.0402], "nice": false, "zero": false},
              "axis": {"values": [-0.04, -0.02, 0, 0.02, 0.04], "tickCount": 60, "labelOverlap": false, "labelExpr": "(datum.value < 0 ? '-' : '') + format(abs(datum.value), '.2f')"}},
            "y2": {"datum": 0},
            "color": {"condition": {"test": "datum.acf >= 0", "value": "#4682b4"}, "value": "#ffa500"}}},
        {"data": {"name": "clim"}, "mark": {"type": "rule", "color": "#ff6347", "strokeDash": [2, 1.5], "strokeWidth": 0.8}, "encoding": {"y": {"field": "clim", "type": "quantitative"}}},
        {"data": {"values": [{}]}, "mark": {"type": "rule", "color": "#555", "strokeWidth": 1.2}, "encoding": {"y": {"datum": 0}}}
      ]
    },
    {
      "width": 297.5, "height": 183,
      "title": "Empirical Density of Standardized Residuals",
      "layer": [
        {"data": {"name": "hist4"}, "mark": {"type": "bar", "color": "#bebebe", "stroke": "white", "strokeWidth": 0.4, "clip": true},
          "encoding": {
            "x": {"field": "b0", "type": "quantitative", "title": "zseries", "scale": {"domain": [-5.21, 14.05], "nice": false, "zero": false},
              "axis": {"values": [-5, 0, 5, 10], "tickCount": 60, "labelOverlap": false, "labelExpr": "(datum.value < 0 ? '-' : '') + format(abs(datum.value), 'd')"}},
            "x2": {"field": "b1"},
            "y": {"field": "d", "type": "quantitative", "title": "Probability", "scale": {"domain": [-0.024, 0.624], "nice": false, "zero": false},
              "axis": {"values": [0, 0.1, 0.2, 0.3, 0.4, 0.5, 0.6], "tickCount": 60, "labelOverlap": false, "format": ".1f"}},
            "y2": {"datum": 0}}},
        {"data": {"name": "curve4"}, "mark": {"type": "line", "strokeWidth": 1.3, "clip": true, "interpolate": "monotone"},
          "encoding": {"x": {"field": "z", "type": "quantitative", "scale": {"domain": [-5.21, 14.05], "nice": false, "zero": false}},
            "y": {"field": "p", "type": "quantitative", "scale": {"domain": [-0.024, 0.624], "nice": false, "zero": false}},
            "color": {"field": "curve", "type": "nominal", "scale": {"domain": ["normal Density", "std (0,1) Fitted Density"], "range": ["#0000ff", "#ffa500"]},
              "legend": {"orient": "top-left", "title": null, "offset": 5.5}}}},
        {"data": {"name": "stat4"}, "mark": {"type": "rule", "strokeWidth": 1.2},
          "encoding": {"x": {"field": "v", "type": "quantitative", "scale": {"domain": [-5.21, 14.05], "nice": false, "zero": false}}, "color": {"condition": {"test": "datum.stat === 'mean'", "value": "#ff0000"}, "value": "#228b22"}}},
        {"data": {"values": [{}]}, "mark": {"type": "text", "text": "Median: 0.04 | Mean: -0.02", "align": "left", "baseline": "bottom", "dy": -1, "fontSize": 3.5, "color": "#a0a0a0"},
          "encoding": {"x": {"datum": -5.21, "scale": {"domain": [-5.21, 14.05], "nice": false, "zero": false}}, "y": {"datum": 0.624, "scale": {"domain": [-0.024, 0.624], "nice": false, "zero": false}}}},
        {"data": {"values": [{}]}, "mark": {"type": "text", "text": "GARCH model : sGARCH", "angle": 270, "align": "left", "baseline": "top", "dy": 1.5, "fontSize": 3.5, "color": "#c0c0c0"},
          "encoding": {"x": {"datum": 14.05, "scale": {"domain": [-5.21, 14.05], "nice": false, "zero": false}}, "y": {"datum": -0.024, "scale": {"domain": [-0.024, 0.624], "nice": false, "zero": false}}}}
      ]
    },
    {
      "width": 297.5, "height": 183,
      "title": "ACF of Squared Standardized Residuals",
      "layer": [
        {"data": {"name": "sq3"}, "mark": {"type": "bar", "width": 6.6, "stroke": "#111", "strokeWidth": 0.9},
          "encoding": {
            "x": {"field": "lag", "type": "quantitative", "title": "lag", "scale": {"domain": [-0.808, 36.81], "nice": false, "zero": false},
              "axis": {"values": [0.4167, 1, 2, 3, 4, 5, 6, 7, 8, 8.75, 9, 11, 13, 15, 17, 17.0833, 19, 21, 23, 25, 25.4167, 27, 29, 31, 33, 33.75, 35], "tickCount": 60, "format": "d", "labelExpr": "datum.value % 1 === 0 ? datum.label : ''", "ticks": false, "labelPadding": 5.5, "titlePadding": 10, "labelOverlap": false, "labelFlush": false, "gridOpacity": {"condition": {"test": "datum.value % 1 !== 0", "value": 1}, "value": 0}}},
            "y": {"field": "acf", "type": "quantitative", "title": "ACF", "scale": {"domain": [-0.0402, 0.0402], "nice": false, "zero": false},
              "axis": {"values": [-0.04, -0.02, 0, 0.02, 0.04], "tickCount": 60, "labelOverlap": false, "labelExpr": "(datum.value < 0 ? '-' : '') + format(abs(datum.value), '.2f')"}},
            "y2": {"datum": 0},
            "color": {"condition": {"test": "datum.acf >= 0", "value": "#4682b4"}, "value": "#ffa500"}}},
        {"data": {"name": "clim"}, "mark": {"type": "rule", "color": "#ff6347", "strokeDash": [2, 1.5], "strokeWidth": 0.8}, "encoding": {"y": {"field": "clim", "type": "quantitative"}}},
        {"data": {"values": [{}]}, "mark": {"type": "rule", "color": "#555", "strokeWidth": 1.2}, "encoding": {"y": {"datum": 0}}},
        {"data": {"values": [{}]}, "mark": {"type": "text", "text": "GARCH model : sGARCH", "angle": 270, "align": "left", "baseline": "top", "dy": 1.5, "fontSize": 3.5, "color": "#c0c0c0"},
          "encoding": {"x": {"datum": 36.81}, "y": {"datum": -0.0402}}}
      ]
    },
    {
      "width": 297.5, "height": 183,
      "title": "ACF of Squared Standardized Residuals",
      "layer": [
        {"data": {"name": "sq3"}, "mark": {"type": "bar", "width": 6.6, "stroke": "#111", "strokeWidth": 0.9},
          "encoding": {
            "x": {"field": "lag", "type": "quantitative", "title": "lag", "scale": {"domain": [-0.808, 36.81], "nice": false, "zero": false},
              "axis": {"values": [0.4167, 1, 2, 3, 4, 5, 6, 7, 8, 8.75, 9, 11, 13, 15, 17, 17.0833, 19, 21, 23, 25, 25.4167, 27, 29, 31, 33, 33.75, 35], "tickCount": 60, "format": "d", "labelExpr": "datum.value % 1 === 0 ? datum.label : ''", "ticks": false, "labelPadding": 5.5, "titlePadding": 10, "labelOverlap": false, "labelFlush": false, "gridOpacity": {"condition": {"test": "datum.value % 1 !== 0", "value": 1}, "value": 0}}},
            "y": {"field": "acf", "type": "quantitative", "title": "ACF", "scale": {"domain": [-0.0402, 0.0402], "nice": false, "zero": false},
              "axis": {"values": [-0.04, -0.02, 0, 0.02, 0.04], "tickCount": 60, "labelOverlap": false, "labelExpr": "(datum.value < 0 ? '-' : '') + format(abs(datum.value), '.2f')"}},
            "y2": {"datum": 0},
            "color": {"condition": {"test": "datum.acf >= 0", "value": "#4682b4"}, "value": "#ffa500"}}},
        {"data": {"name": "clim"}, "mark": {"type": "rule", "color": "#ff6347", "strokeDash": [2, 1.5], "strokeWidth": 0.8}, "encoding": {"y": {"field": "clim", "type": "quantitative"}}},
        {"data": {"values": [{}]}, "mark": {"type": "rule", "color": "#555", "strokeWidth": 1.2}, "encoding": {"y": {"datum": 0}}}
      ]
    }
  ],
  "config": {
    "font": "Liberation Sans",
    "view": {"stroke": "#1a1a1a", "strokeWidth": 1},
    "axis": {"labelFontSize": 4.5, "titleFontSize": 5, "titleFontWeight": "normal", "labelColor": "#222", "titleColor": "#222", "tickColor": "#222", "tickSize": 2.5, "labelPadding": 3, "labelOverlap": false, "gridColor": "#d3d3d3", "gridWidth": 0.7, "gridDash": [2, 1.5], "domain": false},
    "axisX": {"titlePadding": 8},
    "axisY": {"labelAngle": 270, "titlePadding": 7},
    "legend": {"padding": 0, "labelFontSize": 4, "labelColor": "#222", "symbolType": "circle", "symbolSize": 3, "symbolStrokeWidth": 1.8, "labelOffset": 3, "rowPadding": -4.8, "labelLimit": 200},
    "title": {"fontSize": 3.9, "fontWeight": "bold", "color": "#111", "offset": 8.5}
  }
}
